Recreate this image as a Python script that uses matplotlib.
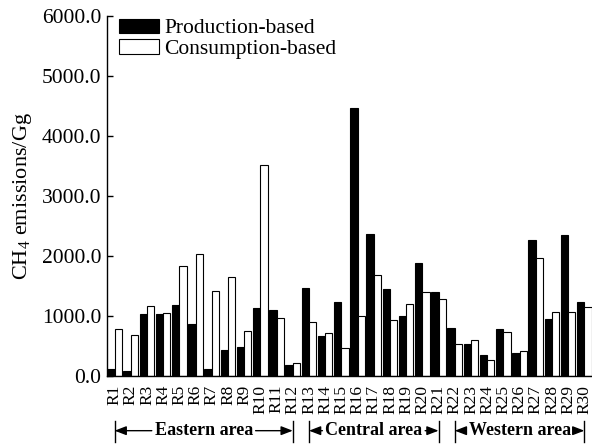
import numpy as np
import matplotlib
matplotlib.use("Agg")
import matplotlib.pyplot as plt
import matplotlib.transforms as mtransforms

plt.rcParams['font.family'] = ['Liberation Serif', 'DejaVu Serif']
plt.rcParams['mathtext.fontset'] = 'custom'
plt.rcParams['mathtext.rm'] = 'Liberation Serif'

regions = ["R%d" % i for i in range(1, 31)]

production = [105, 83, 1033, 1023, 1173, 857, 112, 428, 478, 1128,
              1095, 183, 1473, 662, 1228, 4473, 2373, 1445, 1000, 1890,
              1400, 800, 523, 345, 778, 373, 2262, 940, 2350, 1233]
consumption = [783, 678, 1162, 1040, 1833, 2028, 1423, 1650, 745, 3517,
               957, 207, 890, 712, 467, 1000, 1678, 928, 1190, 1400,
               1273, 528, 595, 262, 723, 417, 1973, 1067, 1057, 1150]

# area name, first region index, last region index
areas = [("Eastern area", 0, 11),
         ("Central area", 12, 20),
         ("Western area", 21, 29)]

yticks = [0, 1000, 2000, 3000, 4000, 5000, 6000]


def main():
    fig = plt.figure(figsize=(5.92, 4.45), dpi=100)
    ax = fig.add_axes([0.1807, 0.1557, 0.8193, 0.8073])

    x = np.arange(len(regions))
    w = 0.45
    ax.bar(x - w / 2, production, w, color="black", edgecolor="black",
           linewidth=0.8, label="Production-based")
    ax.bar(x + w / 2, consumption, w, color="white", edgecolor="black",
           linewidth=0.8, label="Consumption-based")

    ax.set_xlim(-0.47, len(regions) - 1 + 0.47)
    ax.set_ylim(0, 6000)
    ax.set_yticks(yticks)
    ax.set_yticklabels(["%.1f" % v for v in yticks], fontsize=15.5)
    ax.set_xticks(x)
    ax.set_xticklabels(regions, rotation=90, fontsize=12.5)
    ax.tick_params(axis="x", length=0, pad=6.5)
    ax.tick_params(axis="y", direction="in", length=4, width=1, pad=4)

    ax.spines["top"].set_visible(False)
    ax.spines["right"].set_visible(False)
    ax.spines["left"].set_linewidth(1)
    ax.spines["bottom"].set_linewidth(1)

    ax.set_ylabel("CH$_4$ emissions/Gg", fontsize=16)
    ax.yaxis.set_label_coords(-0.150, 0.5)

    ax.legend(loc="upper left", bbox_to_anchor=(0.02, 1.0), frameon=False,
              fontsize=15.5, handlelength=1.85, handleheight=0.65,
              handletextpad=0.25, labelspacing=0.05, borderaxespad=0,
              borderpad=0.1)

    # area brackets under the tick labels
    trans = mtransforms.blended_transform_factory(ax.transData, ax.transAxes)
    y_line = -0.153
    for name, i0, i1 in areas:
        for xb in (x[i0], x[i1]):
            ax.plot([xb, xb], [-0.125, -0.185], color="black", lw=1,
                    transform=trans, clip_on=False)
        txt = ax.text((x[i0] + x[i1]) / 2, y_line, name, transform=trans,
                      ha="center", va="center", fontsize=13,
                      fontweight="bold")
        arrow = dict(arrowstyle="-|>,head_length=0.7,head_width=0.27",
                     color="black", lw=1, shrinkA=2, shrinkB=0)
        ax.annotate("", xy=(x[i0], y_line), xycoords=trans,
                    xytext=(0, 0.5), textcoords=txt, arrowprops=arrow)
        ax.annotate("", xy=(x[i1], y_line), xycoords=trans,
                    xytext=(1, 0.5), textcoords=txt, arrowprops=arrow)

    fig.savefig("out.png", dpi=100)


if __name__ == "__main__":
    main()
